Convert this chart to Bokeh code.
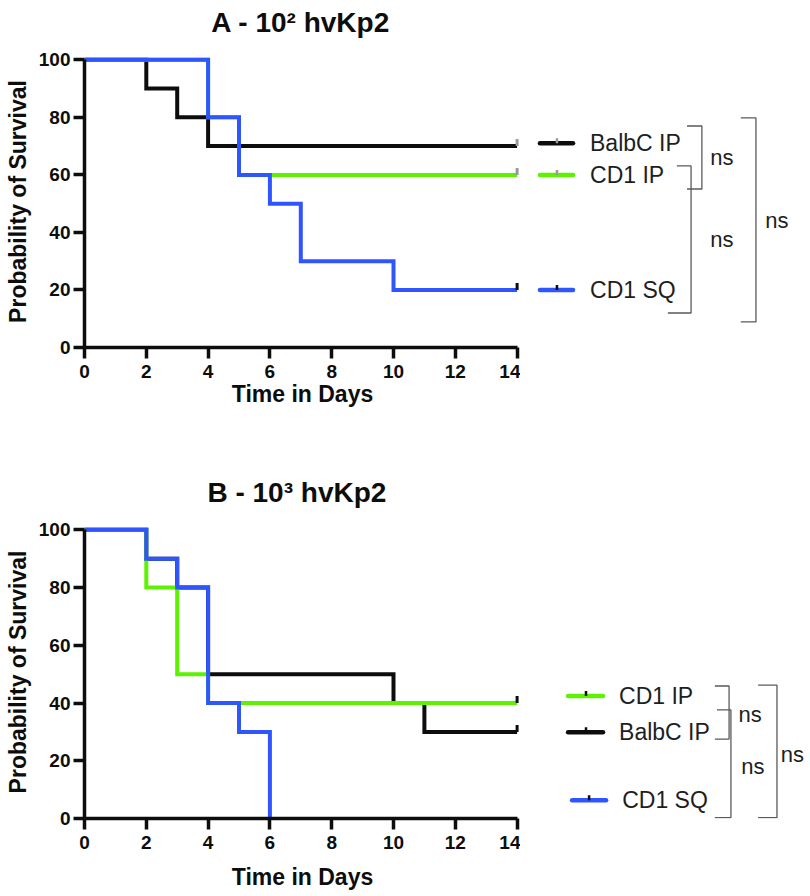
from bokeh.plotting import figure
from bokeh.models import Range1d, FixedTicker, Label
from bokeh.layouts import column, row
from bokeh.embed import file_html
from bokeh.resources import INLINE

# ---------------- data ----------------
X_TICKS = [0, 2, 4, 6, 8, 10, 12, 14]
Y_TICKS = [0, 20, 40, 60, 80, 100]

# Panel A - 10^2 hvKp2
A_TITLE = "A - 10\u00b2 hvKp2"
A_BALBC_T = [0, 2, 3, 4, 14]
A_BALBC_S = [100, 90, 80, 70, 70]
A_CD1IP_T = [0, 4, 5, 14]
A_CD1IP_S = [100, 80, 60, 60]
A_CD1SQ_T = [0, 4, 5, 6, 7, 10, 14]
A_CD1SQ_S = [100, 80, 60, 50, 30, 20, 20]
A_LEGEND_NAMES = ["BalbC  IP", "CD1 IP", "CD1 SQ"]
A_LEGEND_Y = [71, 60, 20]
A_STATS = ["ns", "ns", "ns"]

# Panel B - 10^3 hvKp2
B_TITLE = "B - 10\u00b3  hvKp2"
B_CD1IP_T = [0, 2, 3, 4, 14]
B_CD1IP_S = [100, 80, 50, 40, 40]
B_BALBC_T = [0, 2, 3, 4, 10, 11, 14]
B_BALBC_S = [100, 90, 80, 50, 40, 30, 30]
B_CD1SQ_T = [0, 2, 3, 4, 5, 6]
B_CD1SQ_S = [100, 90, 80, 40, 30, 0]
B_LEGEND_NAMES = ["CD1 IP", "BalbC  IP", "CD1 SQ"]
B_LEGEND_Y = [42.4, 29.9, 6.3]
B_STATS = ["ns", "ns", "ns"]

X_LABEL = "Time in Days"
Y_LABEL = "Probability of Survival"

BLACK = "#0d0d0d"
GREEN = "#5cf200"
BLUE = "#2f55ff"
GREY_TICK = "#9a9a9a"
FONT = "Liberation Sans"
PX_PER_DAY = 30.9
LEFT = 84
TOP = 8
CHART_W = 436
LEG_W = 288
TOTAL_W = LEFT + CHART_W + LEG_W
X_END = CHART_W / PX_PER_DAY
Y_END = 101.5


def make_title_fig(title, height, center_from_top):
    p = figure(width=TOTAL_W, height=height,
               x_range=Range1d(-LEFT / PX_PER_DAY, (TOTAL_W - LEFT) / PX_PER_DAY),
               y_range=Range1d(0, height),
               output_backend="svg", toolbar_location=None,
               x_axis_location=None, y_axis_location=None,
               min_border_left=0, min_border_right=0, min_border_top=0, min_border_bottom=0)
    p.grid.visible = False
    p.outline_line_color = None
    p.add_layout(Label(x=7, y=height - center_from_top, text=title, text_font=FONT,
                       text_font_style="bold", text_font_size="28px", text_align="center",
                       text_baseline="middle", text_color=BLACK))
    return p


def make_chart(frame_h, bottom, xlabel_standoff):
    p = figure(frame_width=CHART_W, frame_height=frame_h,
               x_range=Range1d(0, X_END), y_range=Range1d(0, Y_END),
               output_backend="svg", toolbar_location=None,
               min_border_left=LEFT, min_border_right=0, min_border_top=TOP,
               min_border_bottom=bottom)
    p.grid.visible = False
    p.outline_line_color = None
    for ax, ticks, bounds in ((p.xaxis[0], X_TICKS, (0, 14)), (p.yaxis[0], Y_TICKS, (0, 100))):
        ax.ticker = FixedTicker(ticks=ticks)
        ax.bounds = bounds
        ax.axis_line_width = 3.5
        ax.axis_line_color = BLACK
        ax.major_tick_line_width = 3.5
        ax.major_tick_line_color = BLACK
        ax.major_tick_out = 11
        ax.major_tick_in = 0
        ax.minor_tick_out = 0
        ax.minor_tick_in = 0
        ax.major_label_text_font = FONT
        ax.major_label_text_font_style = "bold"
        ax.major_label_text_font_size = "19px"
        ax.major_label_text_color = BLACK
        ax.axis_label_text_font = FONT
        ax.axis_label_text_font_style = "bold"
        ax.axis_label_text_font_size = "23px"
        ax.axis_label_text_color = BLACK
    p.xaxis[0].axis_label = X_LABEL
    p.yaxis[0].axis_label = Y_LABEL
    p.xaxis[0].major_label_standoff = 6
    p.yaxis[0].major_label_standoff = 3
    p.xaxis[0].axis_label_standoff = xlabel_standoff
    p.yaxis[0].axis_label_standoff = 5
    return p


def make_legend_fig(frame_h, bottom):
    p = figure(frame_width=LEG_W, frame_height=frame_h,
               x_range=Range1d(X_END, X_END + LEG_W / PX_PER_DAY), y_range=Range1d(0, Y_END),
               output_backend="svg", toolbar_location=None,
               x_axis_location=None, y_axis_location=None,
               min_border_left=0, min_border_right=0, min_border_top=TOP,
               min_border_bottom=bottom)
    p.grid.visible = False
    p.outline_line_color = None
    return p


def draw_curves(p, curves, px_per_unit, censor_colors):
    for (t, s, c) in curves:
        p.step(x=t, y=s, mode="after", line_width=4, line_color=c, line_join="miter")
    for (t, s, c), cc in zip(curves, censor_colors):
        if s[-1] > 0:
            p.segment(x0=[t[-1]], y0=[s[-1]], x1=[t[-1]], y1=[s[-1] + 7 / px_per_unit],
                      line_width=3, line_color=cc)


def draw_legend(p, names, ys, colors, tick_colors, x0, x1, xt, xtext, px_per_unit):
    for n, y, c, tc, a, b, m, tx in zip(names, ys, colors, tick_colors, x0, x1, xt, xtext):
        p.segment(x0=[a], y0=[y], x1=[b], y1=[y], line_width=4.5, line_color=c, line_cap="round")
        p.segment(x0=[m], y0=[y], x1=[m], y1=[y + 5 / px_per_unit], line_width=2.5, line_color=tc)
        p.add_layout(Label(x=tx, y=y, text=n, text_font=FONT, text_font_size="23px",
                           text_baseline="middle", text_color="#1e1e1e"))


def draw_brackets(p, brackets, stats, stat_pos, align):
    for (xt, xb, xv, yt, yb) in brackets:
        p.line(x=[xt, xv, xv, xb], y=[yt, yt, yb, yb], line_width=1.3, line_color="#5a5a5a")
    for s, (x, y), al in zip(stats, stat_pos, align):
        p.add_layout(Label(x=x, y=y, text=s, text_font=FONT, text_font_size="22px",
                           text_align=al, text_baseline="middle", text_color="#1e1e1e"))


# ---------------- panel A ----------------
A_PX = 2.875
A_FRAME_H = round(Y_END * A_PX)
ta = make_title_fig(A_TITLE, 55 - TOP, 22)
pa = make_chart(A_FRAME_H, 89, 0)
draw_curves(pa, [(A_BALBC_T, A_BALBC_S, BLACK), (A_CD1IP_T, A_CD1IP_S, GREEN),
                 (A_CD1SQ_T, A_CD1SQ_S, BLUE)], A_PX, [GREY_TICK, GREY_TICK, BLACK])
la = make_legend_fig(A_FRAME_H, 89)
draw_legend(la, A_LEGEND_NAMES, A_LEGEND_Y, [BLACK, GREEN, BLUE], [GREY_TICK, GREY_TICK, BLACK],
            [14.74] * 3, [15.81] * 3, [15.29] * 3, [16.36] * 3, A_PX)
draw_brackets(la,
              [(19.50, 19.50, 19.98, 77.0, 55.1),
               (19.17, 18.88, 19.63, 63.1, 12.0),
               (21.24, 21.24, 21.73, 79.8, 8.9)],
              A_STATS, [(20.63, 65.9), (20.63, 37.4), (22.41, 44.0)],
              ["center", "center", "center"])

# ---------------- panel B ----------------
B_PX = 2.883
B_FRAME_H = round(Y_END * B_PX)
tb = make_title_fig(B_TITLE, 89 - TOP, 56)
pb = make_chart(B_FRAME_H, 76, 12)
draw_curves(pb, [(B_BALBC_T, B_BALBC_S, BLACK), (B_CD1IP_T, B_CD1IP_S, GREEN),
                 (B_CD1SQ_T, B_CD1SQ_S, BLUE)], B_PX, [BLACK, BLACK, BLACK])
lb = make_legend_fig(B_FRAME_H, 76)
draw_legend(lb, B_LEGEND_NAMES, B_LEGEND_Y, [GREEN, BLACK, BLUE], [BLACK, BLACK, BLACK],
            [15.65, 15.65, 15.78], [16.78, 16.78, 16.88], [16.23, 16.23, 16.33],
            [17.30, 17.30, 17.40], B_PX)
draw_brackets(lb,
              [(20.40, 20.40, 20.86, 45.9, 27.5),
               (20.47, 20.40, 20.92, 37.6, 0.3),
               (21.80, 21.80, 22.41, 46.2, 0.3)],
              B_STATS, [(21.54, 36.2), (21.63, 18.1), (22.53, 22.3)],
              ["center", "center", "left"])

layout = column(ta, row(pa, la, spacing=0), tb, row(pb, lb, spacing=0), spacing=0)
open("out.html", "w").write(file_html(layout, INLINE))
